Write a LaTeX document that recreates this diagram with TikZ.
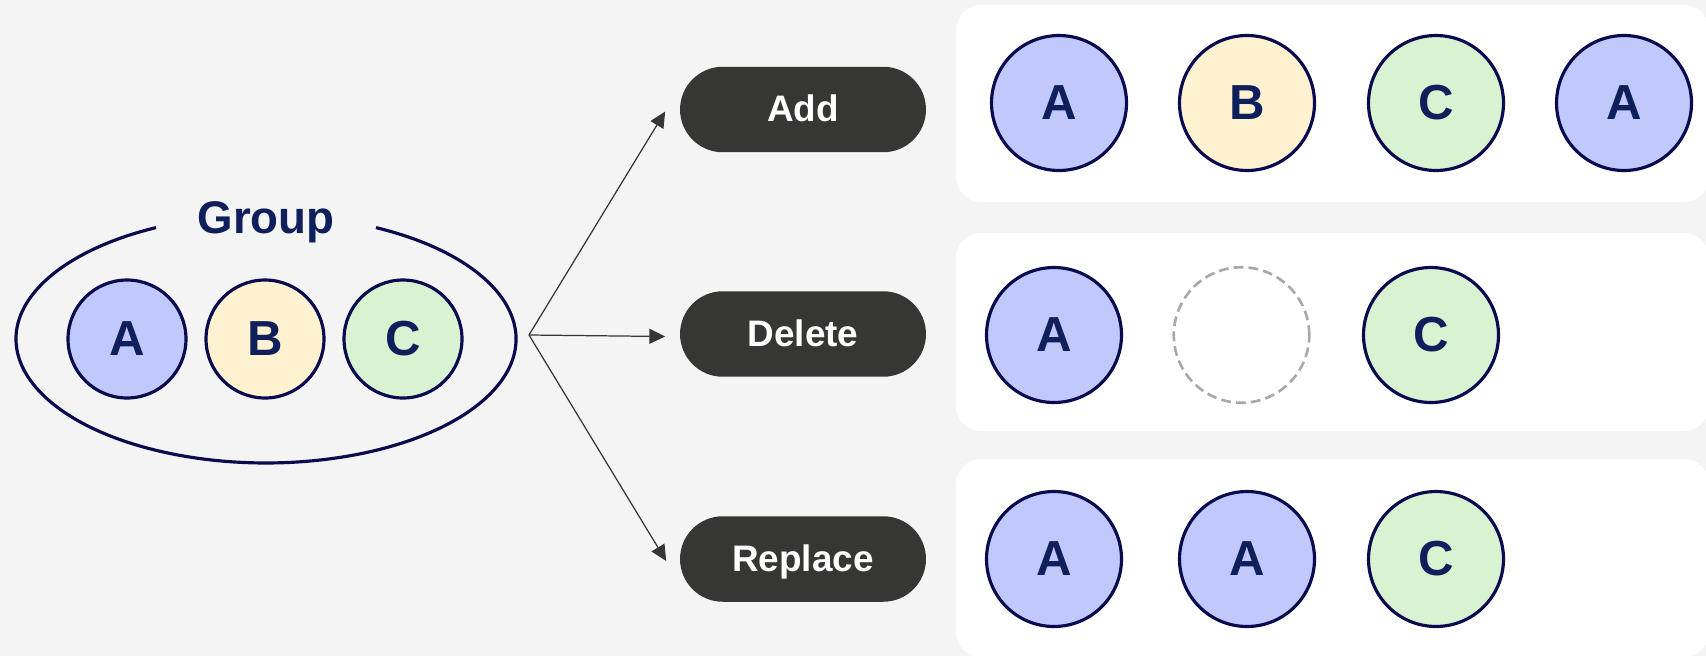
\documentclass[tikz,border=0pt]{standalone}
\usepackage{fontspec}
\setmainfont{Liberation Sans}
\usetikzlibrary{arrows.meta}
\definecolor{bgcol}{HTML}{F4F4F4}
\definecolor{pillcol}{HTML}{363634}
\definecolor{ringcol}{HTML}{0A0A4E}
\definecolor{inkcol}{HTML}{0E1F5B}
\definecolor{fillA}{HTML}{C1C9FC}
\definecolor{fillB}{HTML}{FFF2D1}
\definecolor{fillC}{HTML}{D9F3D2}
\definecolor{ghostcol}{HTML}{A9A9A9}
\tikzset{
  item/.style={circle, draw=ringcol, line width=1.8pt, inner sep=0pt,
    text=inkcol, font=\fontsize{28}{28}\selectfont\bfseries},
  small/.style={item, minimum size=2.36cm},
  big/.style={item, minimum size=2.7cm},
  itemA/.style={fill=fillA},
  itemB/.style={fill=fillB},
  itemC/.style={fill=fillC},
  ghost/.style={circle, draw=ghostcol, line width=1.5pt, dash pattern=on 5.6pt off 2.9pt,
    minimum size=2.71cm, inner sep=0pt},
  pill/.style={fill=pillcol, text=white, rounded corners=0.855cm,
    minimum width=4.92cm, minimum height=1.71cm, inner sep=0pt,
    text height=14pt, text depth=0pt,
    font=\fontsize{21}{21}\selectfont\bfseries},
  panel/.style={fill=white, rounded corners=0.5cm},
  fan/.style={draw=pillcol, line width=0.7pt, -{Triangle[length=9pt,width=8.5pt]}},
}
\begin{document}
\begin{tikzpicture}[x=0.02cm, y=-0.02cm]
  % canvas
  \fill[bgcol] (0,0) rectangle (1706,656);
  \useasboundingbox (0,0) rectangle (1706,656);

  % the group: ellipse, open at the top for its title
  \draw[ringcol, line width=1.8pt] (376,227.6)
    arc[start angle=-63.9, end angle=243.9, x radius=250, y radius=124];
  \node[anchor=base, inner sep=0pt, text=inkcol,
        font=\fontsize{26}{26}\selectfont\bfseries] (group) at (266,233) {Group};
  \node[small, itemA] (gA) at (127,339) {A};
  \node[small, itemB] (gB) at (265,339) {B};
  \node[small, itemC] (gC) at (403,339) {C};

  % operations
  \node[pill] (add) at (803,109.5) {Add};
  \node[pill] (del) at (803,334) {Delete};
  \node[pill] (rep) at (803,559) {Replace};

  \coordinate (fork) at (529,335);
  \draw[fan] (fork) -- ([xshift=-0.29cm,yshift=-0.04cm]add.west);
  \draw[fan] (fork) -- ([xshift=-0.29cm,yshift=-0.05cm]del.west);
  \draw[fan] (fork) -- ([xshift=-0.27cm,yshift=-0.04cm]rep.west);

  % result panels
  \fill[panel] (956,5) rectangle (1709,202);
  \fill[panel] (956,233) rectangle (1709,431);
  \fill[panel] (956,459) rectangle (1709,657);

  % add: A B C A
  \node[big, itemA] (a1) at (1059,103) {A};
  \node[big, itemB] (a2) at (1247,103) {B};
  \node[big, itemC] (a3) at (1436,103) {C};
  \node[big, itemA] (a4) at (1624,103) {A};

  % delete: A _ C
  \node[big, itemA] (d1) at (1054,335) {A};
  \node[ghost] (d2) at (1241.5,335) {};
  \node[big, itemC] (d3) at (1431,335) {C};

  % replace: A A C
  \node[big, itemA] (r1) at (1054,559) {A};
  \node[big, itemA] (r2) at (1247,559) {A};
  \node[big, itemC] (r3) at (1436,559) {C};
\end{tikzpicture}
\end{document}
